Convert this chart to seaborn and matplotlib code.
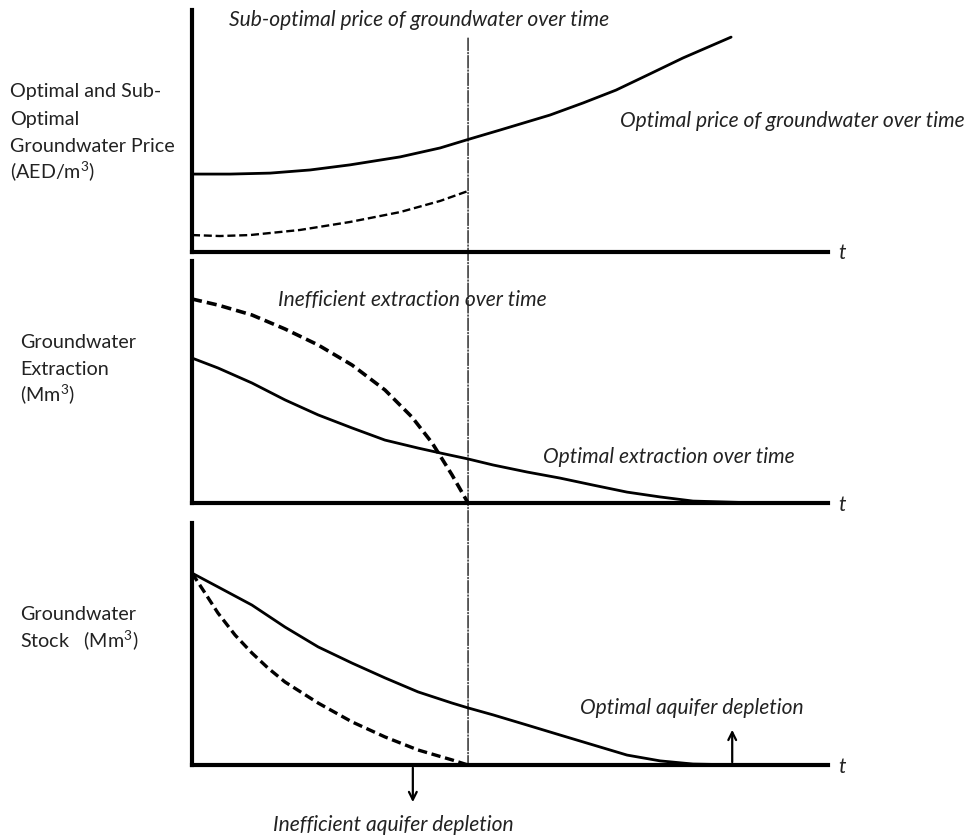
import matplotlib
matplotlib.use("Agg")
import matplotlib.pyplot as plt
from matplotlib.patches import ConnectionPatch
import seaborn as sns

# --- Data (time in arbitrary units, depletion of the inefficient path at T = 10) ---
T_DEPLETION = 10.0

price_opt_t = [0, 1.38, 2.83, 4.28, 5.72, 7.54, 8.99, 10.0, 11.16, 12.97, 14.17, 15.36, 16.59, 17.79, 19.53]
price_opt_v = [3.22, 3.22, 3.26, 3.39, 3.60, 3.93, 4.30, 4.65, 5.04, 5.66, 6.16, 6.69, 7.36, 8.02, 8.88]

price_sub_t = [0, 1.01, 2.10, 3.91, 5.72, 7.54, 8.99, 10.0]
price_sub_v = [0.70, 0.66, 0.70, 0.91, 1.24, 1.65, 2.11, 2.52]

extr_ineff_t = [0, 0.94, 2.17, 3.37, 4.57, 5.80, 6.99, 7.97, 8.70, 9.42, 10.0]
extr_ineff_v = [8.43, 8.18, 7.77, 7.19, 6.53, 5.70, 4.67, 3.55, 2.48, 1.16, 0.0]

extr_opt_t = [0, 0.94, 2.17, 3.37, 4.57, 5.80, 6.99, 8.19, 9.06, 10.0, 10.91, 12.14,
              13.33, 14.53, 15.76, 16.96, 18.15, 19.96]
extr_opt_v = [5.99, 5.58, 4.96, 4.26, 3.64, 3.10, 2.60, 2.27, 2.05, 1.82, 1.57, 1.28,
              1.03, 0.74, 0.45, 0.25, 0.08, 0.02]

stock_opt_t = [0, 0.94, 2.17, 3.37, 4.57, 5.80, 6.99, 8.19, 9.42, 10.0, 10.91, 12.14,
               13.33, 14.53, 15.76, 16.96, 18.15, 19.96]
stock_opt_v = [7.93, 7.36, 6.61, 5.70, 4.88, 4.21, 3.60, 3.02, 2.56, 2.36, 2.07, 1.65,
               1.24, 0.83, 0.41, 0.17, 0.04, 0.0]

stock_ineff_t = [0, 0.47, 0.94, 1.56, 2.17, 2.75, 3.37, 4.57, 5.80, 6.99, 8.19, 9.42, 10.0]
stock_ineff_v = [7.93, 7.11, 6.28, 5.37, 4.63, 4.01, 3.43, 2.56, 1.78, 1.16, 0.62, 0.21, 0.0]

ineff_depletion_t = 8.0
opt_depletion_t = 19.57

price_label_lines = ["Optimal and Sub-", "Optimal", "Groundwater Price", "(AED/m$^3$)"]
extr_label_lines = ["Groundwater", "Extraction", "(Mm$^3$)"]
stock_label_lines = ["Groundwater", "Stock   (Mm$^3$)"]

W, H = 966, 838
sns.set_theme(style="white")
plt.rcParams["font.family"] = ["Lato", "DejaVu Sans"]
plt.rcParams["mathtext.fontset"] = "custom"
plt.rcParams["mathtext.rm"] = "Lato"
plt.rcParams["mathtext.default"] = "rm"

fig = plt.figure(figsize=(W / 100, H / 100), dpi=100)


def fx(x):
    return x / W


def fy(y):
    return 1 - y / H


def make_axes(top_px, bottom_px):
    ax = fig.add_axes([fx(192), fy(bottom_px), fx(828) - fx(192), fy(top_px) - fy(bottom_px)])
    ax.set_xlim(0, 23.04)
    ax.set_ylim(0, 10)
    ax.set_xticks([])
    ax.set_yticks([])
    ax.set_facecolor("none")
    for side in ["top", "right"]:
        ax.spines[side].set_visible(False)
    for side in ["left", "bottom"]:
        ax.spines[side].set_linewidth(3)
        ax.spines[side].set_color("black")
    return ax


ax1 = make_axes(10, 252)
ax2 = make_axes(261, 503)
ax3 = make_axes(523, 765)

line_kw = dict(color="black", sort=False, solid_joinstyle="round", dash_joinstyle="round")

# Price panel
sns.lineplot(x=price_opt_t, y=price_opt_v, ax=ax1, linewidth=2.0, **line_kw)
sns.lineplot(x=price_sub_t, y=price_sub_v, ax=ax1, linewidth=1.7,
             linestyle=(0, (3.4, 1.6)), **line_kw)

# Extraction panel
sns.lineplot(x=extr_opt_t, y=extr_opt_v, ax=ax2, linewidth=2.0, **line_kw)
sns.lineplot(x=extr_ineff_t, y=extr_ineff_v, ax=ax2, linewidth=2.6,
             linestyle=(0, (2.8, 1.4)), **line_kw)

# Stock panel
sns.lineplot(x=stock_opt_t, y=stock_opt_v, ax=ax3, linewidth=2.0, **line_kw)
sns.lineplot(x=stock_ineff_t, y=stock_ineff_v, ax=ax3, linewidth=2.4,
             linestyle=(0, (2.8, 1.4)), **line_kw)

# Vertical line at the depletion time, spanning all panels
con = ConnectionPatch(xyA=(T_DEPLETION, 8.84), coordsA=ax1.transData,
                      xyB=(T_DEPLETION, 0), coordsB=ax3.transData,
                      color="black", linewidth=0.9, linestyle=(0, (10, 1.5, 1, 1.5)))
fig.add_artist(con)

# Arrows for depletion points
ax3.annotate("", xy=(ineff_depletion_t, -1.65), xytext=(ineff_depletion_t, 0),
             annotation_clip=False,
             arrowprops=dict(arrowstyle="->", color="black", lw=1.6, mutation_scale=14))
ax3.annotate("", xy=(opt_depletion_t, 1.57), xytext=(opt_depletion_t, 0),
             annotation_clip=False,
             arrowprops=dict(arrowstyle="->", color="black", lw=1.6, mutation_scale=14))

# Axis labels on the left, one text per line
lab_kw = dict(fontsize=14.2, color="#222222", ha="left", va="baseline")
for line, base in zip(price_label_lines, [97, 125, 152, 178]):
    fig.text(fx(10), fy(base), line, **lab_kw)
for line, base in zip(extr_label_lines, [348, 375, 401]):
    fig.text(fx(20), fy(base), line, **lab_kw)
for line, base in zip(stock_label_lines, [620, 647]):
    fig.text(fx(20), fy(base), line, **lab_kw)

# Curve annotations
it_kw = dict(fontsize=15.1, style="italic", color="#222222", ha="left", va="center")
fig.text(fx(229), fy(20), "Sub-optimal price of groundwater over time", **it_kw)
fig.text(fx(620), fy(121), "Optimal price of groundwater over time", **it_kw)
fig.text(fx(278), fy(300), "Inefficient extraction over time", **it_kw)
fig.text(fx(543), fy(457), "Optimal extraction over time", **it_kw)
fig.text(fx(580), fy(708), "Optimal aquifer depletion", **it_kw)
fig.text(fx(273), fy(825), "Inefficient aquifer depletion", **it_kw)

for ypx in [253, 505, 767]:
    fig.text(fx(838), fy(ypx), "t", **it_kw)

fig.savefig("out.png", dpi=100, facecolor="white")
